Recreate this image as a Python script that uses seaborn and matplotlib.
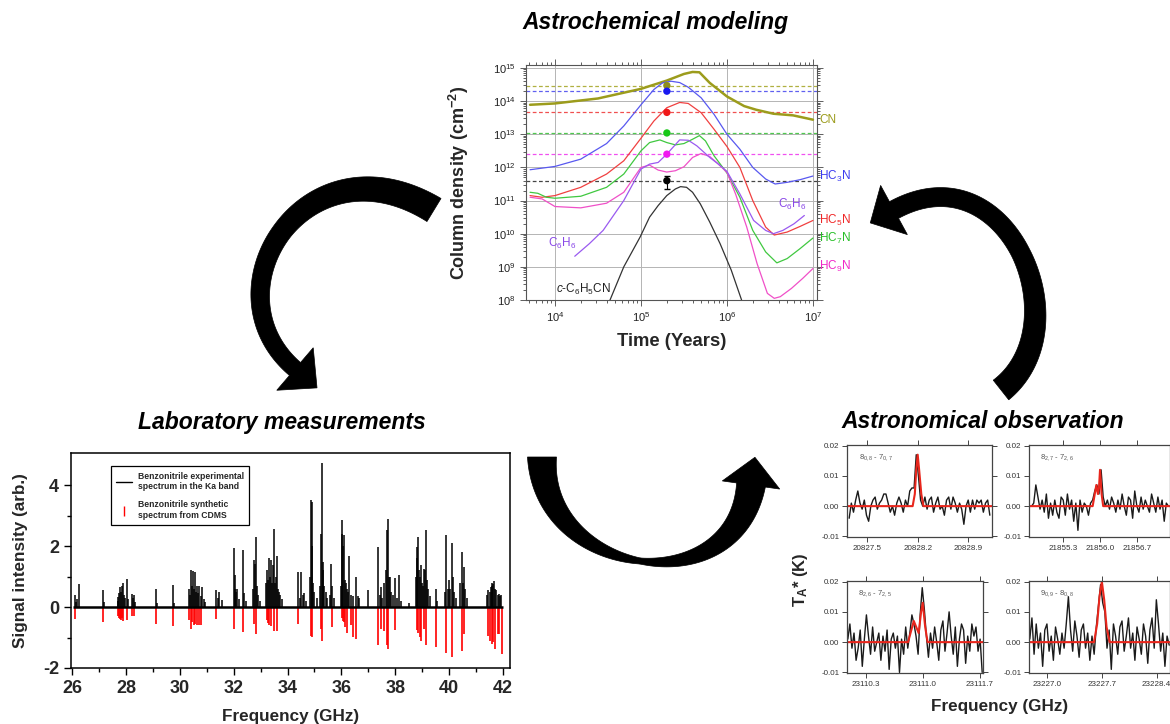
import numpy as np
import matplotlib
matplotlib.use("Agg")
import matplotlib.pyplot as plt
import seaborn as sns
from matplotlib.patches import Polygon
from matplotlib.lines import Line2D
from matplotlib.ticker import LogLocator, NullFormatter, FixedLocator, FixedFormatter, MultipleLocator

# ---------------- data: astrochemical model (log10 time, log10 column density) ----------------
cn_t = [3.71, 4.0, 4.5, 5.0, 5.3, 5.5, 5.6, 5.68, 5.8, 6.0, 6.2, 6.34, 6.54, 6.77, 7.0]
cn_n = [13.89, 13.93, 14.08, 14.37, 14.62, 14.82, 14.88, 14.87, 14.55, 14.14, 13.85, 13.74, 13.62, 13.57, 13.44]
hc3n_t = [3.71, 4.0, 4.3, 4.6, 4.8, 5.0, 5.15, 5.25, 5.35, 5.45, 5.55, 5.7, 5.85, 6.0, 6.15, 6.3, 6.45, 6.56, 6.7, 6.85, 7.0]
hc3n_n = [11.93, 12.03, 12.25, 12.72, 13.25, 13.89, 14.35, 14.55, 14.6, 14.56, 14.42, 14.1, 13.6, 13.0, 12.55, 12.0, 11.65, 11.5, 11.55, 11.63, 11.74]
hc5n_t = [3.71, 3.85, 4.0, 4.3, 4.6, 4.8, 5.0, 5.15, 5.3, 5.45, 5.55, 5.7, 5.85, 6.0, 6.15, 6.3, 6.45, 6.55, 6.7, 6.85, 7.0]
hc5n_n = [11.15, 11.1, 11.15, 11.4, 11.8, 12.2, 12.88, 13.4, 13.8, 13.96, 13.93, 13.65, 13.15, 12.63, 12.0, 11.0, 10.2, 9.96, 10.05, 10.22, 10.4]
hc7n_t = [3.71, 3.8, 3.9, 4.0, 4.3, 4.6, 4.8, 5.0, 5.1, 5.22, 5.3, 5.4, 5.5, 5.6, 5.68, 5.75, 5.85, 6.0, 6.15, 6.3, 6.45, 6.58, 6.7, 6.85, 7.0]
hc7n_n = [11.25, 11.22, 11.1, 11.07, 11.13, 11.4, 11.8, 12.5, 12.75, 12.83, 12.75, 12.68, 12.72, 12.85, 12.96, 12.8, 12.35, 11.83, 11.1, 10.1, 9.45, 9.12, 9.25, 9.55, 9.87]
hc9n_t = [3.71, 3.85, 4.0, 4.3, 4.6, 4.8, 5.0, 5.1, 5.2, 5.3, 5.4, 5.5, 5.6, 5.7, 5.8, 5.9, 6.0, 6.1, 6.23, 6.35, 6.47, 6.55, 6.62, 6.75, 6.88, 7.0]
hc9n_n = [11.1, 11.05, 10.82, 10.78, 10.92, 11.25, 12.0, 12.07, 11.92, 11.86, 11.9, 12.02, 12.3, 12.42, 12.33, 12.1, 11.85, 11.2, 10.2, 9.1, 8.2, 8.05, 8.1, 8.35, 8.65, 8.95]
c6h6_t = [4.23, 4.4, 4.56, 4.8, 5.0, 5.1, 5.2, 5.3, 5.45, 5.55, 5.65, 5.8, 5.9, 6.0, 6.15, 6.31, 6.45, 6.54, 6.65, 6.78, 6.9]
c6h6_n = [9.32, 9.7, 10.1, 11.0, 11.95, 12.1, 12.15, 12.4, 12.83, 12.82, 12.65, 12.3, 12.1, 11.88, 11.2, 10.4, 10.1, 10.0, 10.1, 10.3, 10.55]
bzn_t = [4.64, 4.8, 4.99, 5.1, 5.2, 5.3, 5.4, 5.46, 5.53, 5.6, 5.69, 5.8, 5.92, 6.05, 6.17]
bzn_n = [8.0, 9.0, 9.9, 10.5, 10.85, 11.15, 11.35, 11.42, 11.4, 11.25, 10.9, 10.35, 9.7, 8.9, 8.0]

obs_time = 2.0e5
obs_logn = [14.47, 14.3, 13.66, 13.04, 12.4, 11.6]
obs_err_lo = 11.35
obs_err_hi = 11.75

# ---------------- data: laboratory stick spectrum ----------------
lab_freq = [26.09, 26.14, 26.20, 26.27, 27.15, 27.20,
            27.69, 27.72, 27.75, 27.79, 27.82, 27.86, 27.89, 27.93, 27.97, 28.04, 28.08, 28.22, 28.27, 28.31, 28.35,
            29.10, 29.15, 29.75, 29.80,
            30.33, 30.38, 30.41, 30.45, 30.49, 30.53, 30.57, 30.60, 30.63, 30.68, 30.73, 30.77, 30.82, 30.88, 30.95,
            31.35, 31.40, 31.44, 31.57,
            32.00, 32.04, 32.06, 32.10, 32.14, 32.20, 32.34, 32.39, 32.44,
            32.72, 32.76, 32.80, 32.83, 32.87, 32.92, 32.98,
            33.20, 33.23, 33.27, 33.30, 33.34, 33.38, 33.42, 33.45, 33.50, 33.54, 33.57, 33.60, 33.64, 33.68, 33.73, 33.80,
            34.40, 34.45, 34.50, 34.56, 34.62, 34.70,
            34.83, 34.86, 34.89, 34.92, 34.96, 35.00, 35.08,
            35.20, 35.23, 35.27, 35.30, 35.33, 35.37, 35.42, 35.48, 35.58, 35.62, 35.66, 35.72,
            35.97, 36.01, 36.04, 36.07, 36.10, 36.14, 36.18, 36.22, 36.26, 36.30, 36.35, 36.42, 36.54, 36.60, 36.66, 36.98,
            37.37, 37.42, 37.47, 37.52, 37.60, 37.65, 37.68, 37.72, 37.76, 37.80, 37.85, 37.91, 37.99, 38.05, 38.15, 38.22, 38.50,
            38.76, 38.79, 38.82, 38.85, 38.88, 38.92, 38.95, 38.99, 39.02, 39.06, 39.10, 39.14, 39.18, 39.22, 39.28, 39.50, 39.56,
            39.86, 39.90, 39.95, 40.00, 40.05, 40.09, 40.13, 40.18, 40.26, 40.40, 40.46, 40.50, 40.55, 40.60, 40.66,
            41.42, 41.45, 41.50, 41.55, 41.58, 41.61, 41.64, 41.67, 41.71, 41.75, 41.80, 41.85, 41.90, 41.94]
lab_int = [0.38, 0.15, 0.25, 0.77, 0.55, 0.15,
           0.33, 0.20, 0.45, 0.66, 0.50, 0.70, 0.79, 0.40, 0.30, 0.93, 0.25, 0.42, 0.30, 0.38, 0.15,
           0.60, 0.12, 0.73, 0.12,
           0.60, 0.40, 1.20, 0.70, 1.18, 0.60, 1.15, 0.50, 0.68, 0.45, 0.68, 0.35, 0.66, 0.25, 0.15,
           0.55, 0.30, 0.50, 0.22,
           1.92, 0.60, 1.04, 0.50, 0.60, 0.25, 1.86, 0.45, 0.20,
           0.60, 1.53, 1.40, 2.28, 0.70, 0.40, 0.20,
           0.80, 1.20, 0.90, 1.62, 1.00, 1.53, 0.80, 1.37, 2.56, 0.80, 1.00, 1.67, 0.60, 0.50, 0.40, 0.25,
           1.15, 0.30, 1.15, 0.40, 0.45, 0.20,
           1.00, 3.50, 2.00, 3.45, 0.80, 0.50, 0.30,
           0.70, 2.41, 4.71, 1.20, 1.48, 0.70, 0.50, 0.30, 0.40, 1.40, 0.70, 0.30,
           0.70, 2.41, 2.85, 2.00, 2.36, 0.90, 0.80, 0.60, 0.50, 1.67, 0.40, 0.35, 1.00, 0.35, 0.30, 0.55,
           1.97, 0.40, 0.64, 0.30, 0.80, 1.20, 2.52, 2.90, 1.00, 0.99, 0.50, 0.40, 0.96, 0.30, 1.04, 0.20, 0.12,
           1.00, 1.97, 1.60, 2.28, 1.20, 1.00, 1.37, 0.80, 0.70, 1.26, 1.20, 2.52, 0.90, 0.60, 0.35, 0.60, 0.20,
           0.50, 2.36, 0.60, 0.88, 0.60, 2.10, 1.00, 0.50, 0.30, 0.80, 1.81, 0.80, 1.31, 0.60, 0.30,
           0.40, 0.55, 0.50, 0.65, 0.70, 0.79, 0.75, 0.85, 0.60, 0.55, 0.40, 0.42, 0.35, 0.38]
lab_start, lab_stop = 26.05, 42.0

cdms_freq = [26.09, 27.15, 27.69, 27.73, 27.77, 27.81, 27.85, 27.89, 28.04, 28.22, 28.31,
             29.10, 29.75,
             30.33, 30.41, 30.46, 30.52, 30.57, 30.65, 30.73, 30.80, 31.35,
             32.00, 32.34, 32.76, 32.83,
             33.23, 33.28, 33.33, 33.38, 33.50, 33.60, 34.40, 34.86, 34.92, 35.23, 35.27, 35.66,
             36.01, 36.05, 36.10, 36.15, 36.22, 36.34, 36.43, 36.54,
             37.37, 37.47, 37.60, 37.68, 37.72, 37.99,
             38.79, 38.85, 38.90, 38.95, 39.08, 39.14, 39.50, 39.90, 40.09, 40.46, 40.55,
             41.45, 41.52, 41.58, 41.63, 41.72, 41.80, 41.86, 41.98]
cdms_int = [-0.38, -0.49, -0.30, -0.36, -0.40, -0.44, -0.35, -0.45, -0.44, -0.30, -0.30,
            -0.55, -0.62,
            -0.42, -0.71, -0.50, -0.60, -0.55, -0.60, -0.60, -0.58, -0.38,
            -0.71, -0.82, -0.55, -0.90,
            -0.44, -0.52, -0.58, -0.62, -0.80, -0.78, -0.55, -0.96, -0.98, -0.71, -1.12, -0.66,
            -0.35, -0.45, -0.50, -0.65, -0.85, -0.60, -0.99, -1.04,
            -1.23, -0.71, -0.80, -1.26, -1.37, -0.77,
            -0.75, -0.85, -0.98, -1.10, -0.71, -1.26, -1.32, -1.50, -1.64, -1.45, -0.88,
            -0.95, -1.10, -1.20, -1.15, -1.37, -0.88, -0.88, -1.55]

# ---------------- data: astronomical observation panels ----------------
p1_range = (20827.25, 20829.20)
p1_obs = [-0.004, 0.001, -0.002, 0.002, 0.005, 0.001, -0.001, 0.002, -0.003, -0.005, 0.000, 0.002,
          0.003, -0.001, 0.001, 0.002, 0.004, 0.004, 0.001, -0.002, 0.000, -0.003, 0.001, 0.003,
          0.001, -0.002, 0.002, 0.000, 0.005, 0.006, 0.006, 0.017, 0.010, 0.002, 0.000, 0.003,
          -0.001, 0.002, 0.003, -0.002, 0.001, 0.003, -0.001, 0.000, -0.003, 0.002, 0.003, -0.001,
          0.003, 0.001, -0.002, 0.001, -0.001, -0.006, 0.000, 0.002, -0.002, 0.002, -0.001, 0.002,
          0.001, 0.002, -0.002, 0.001, 0.002, -0.003]
p1_mod_x = [20827.22, 20828.13, 20828.16, 20828.18, 20828.20, 20828.22, 20828.25, 20828.28, 20829.23]
p1_mod_y = [0, 0, 0.004, 0.012, 0.017, 0.012, 0.004, 0, 0]

p2_range = (21854.70, 21857.30)
p2_obs = [0.000, 0.001, 0.007, 0.003, -0.001, 0.002, -0.002, 0.004, -0.004, 0.001, -0.003, 0.002,
          -0.002, -0.004, 0.003, 0.002, -0.003, 0.004, -0.001, 0.002, -0.005, 0.001, -0.008, 0.002,
          -0.002, 0.001, 0.000, -0.003, 0.001, 0.002, 0.005, 0.007, 0.004, 0.012, 0.003, 0.000,
          0.002, -0.001, 0.003, 0.001, -0.002, 0.002, -0.001, 0.004, 0.000, -0.003, 0.003, 0.002,
          -0.004, 0.005, 0.000, -0.002, 0.003, -0.001, 0.002, 0.000, -0.002, 0.004, 0.001, -0.002,
          0.003, -0.001, 0.002, -0.005, 0.001, 0.000]
p2_mod_x = [21854.65, 21855.86, 21855.90, 21855.93, 21855.96, 21855.98, 21856.00, 21856.03, 21856.06, 21857.33]
p2_mod_y = [0, 0, 0.004, 0.007, 0.004, 0.006, 0.012, 0.004, 0, 0]

p3_range = (23110.08, 23111.73)
p3_obs = [0.001, 0.006, -0.002, 0.003, -0.006, -0.002, 0.004, -0.008, 0.001, 0.009, 0.002, -0.004,
          0.005, -0.003, 0.000, 0.003, -0.006, 0.002, -0.003, 0.004, -0.009, 0.001, 0.003, -0.002,
          0.002, -0.010, 0.001, -0.004, 0.005, -0.002, 0.003, 0.009, 0.006, 0.002, -0.004, 0.009,
          0.018, 0.011, 0.002, -0.005, 0.003, -0.002, 0.005, 0.000, -0.006, 0.004, 0.007, -0.003,
          0.003, 0.010, 0.002, -0.004, 0.005, -0.008, 0.001, 0.006, 0.004, -0.007, 0.002, -0.003,
          0.006, 0.002, 0.005, -0.003, 0.001, -0.010]
p3_mod_x = [23110.07, 23110.82, 23110.86, 23110.89, 23110.92, 23110.95, 23110.98, 23111.00, 23111.03, 23111.06, 23111.74]
p3_mod_y = [0, 0, 0.004, 0.007, 0.005, 0.003, 0.010, 0.013, 0.005, 0, 0]

p4_range = (23226.78, 23228.56)
p4_obs = [0.001, 0.008, -0.004, 0.006, -0.002, 0.003, -0.008, 0.004, 0.006, -0.003, 0.002, -0.006,
          0.005, 0.001, -0.004, 0.003, -0.002, 0.006, 0.015, 0.004, -0.003, 0.007, 0.002, -0.005,
          0.004, 0.006, -0.002, 0.003, -0.006, 0.002, -0.004, 0.005, 0.012, 0.019, 0.013, 0.010,
          -0.002, 0.004, -0.009, 0.006, 0.002, -0.004, 0.005, 0.007, -0.003, 0.002, 0.008, -0.002,
          0.003, -0.006, 0.005, 0.001, -0.004, 0.006, 0.002, -0.007, 0.004, 0.008, -0.002, 0.014,
          0.006, -0.003, 0.003, -0.008, 0.002, -0.001]
p4_mod_x = [23226.77, 23227.60, 23227.64, 23227.67, 23227.70, 23227.73, 23227.76, 23227.80, 23228.57]
p4_mod_y = [0, 0, 0.006, 0.015, 0.020, 0.014, 0.005, 0, 0]

p1_ticks = [20827.5, 20828.2, 20828.9]
p2_ticks = [21855.3, 21856.0, 21856.7]
p3_ticks = [23110.3, 23111.0, 23111.7]
p4_ticks = [23227.0, 23227.7, 23228.4]
p_labels = [r"8$_{0,8}$ - 7$_{0,7}$", r"8$_{2,7}$ - 7$_{2,6}$", r"8$_{2,6}$ - 7$_{2,5}$", r"9$_{0,9}$ - 8$_{0,8}$"]

# ---------------- style ----------------
sns.set_theme(style="ticks")
plt.rcParams["font.family"] = ["Liberation Sans", "DejaVu Sans"]
plt.rcParams["mathtext.fontset"] = "custom"
plt.rcParams["mathtext.rm"] = "Liberation Sans"
plt.rcParams["mathtext.it"] = "Liberation Sans:italic"
plt.rcParams["mathtext.bf"] = "Liberation Sans:bold"
plt.rcParams["axes.unicode_minus"] = False

W, H = 1170, 724
fig = plt.figure(figsize=(W / 100, H / 100), dpi=100)
fig.patch.set_facecolor("white")


def px_axes(left, top, right, bottom):
    return fig.add_axes([left / W, 1 - bottom / H, (right - left) / W, (bottom - top) / H])


# overlay for titles and arrows (pixel coordinates)
ov = fig.add_axes([0, 0, 1, 1])
ov.set_xlim(0, W)
ov.set_ylim(H, 0)
ov.axis("off")


def curved_arrow(ax, p0, p1, p2, p3, widths, head_w, head_len):
    P = np.array([p0, p1, p2, p3], dtype=float)
    t = np.linspace(0, 1, 120)[:, None]
    B = ((1 - t) ** 3) * P[0] + 3 * ((1 - t) ** 2) * t * P[1] + 3 * (1 - t) * t ** 2 * P[2] + t ** 3 * P[3]
    D = 3 * ((1 - t) ** 2) * (P[1] - P[0]) + 6 * (1 - t) * t * (P[2] - P[1]) + 3 * t ** 2 * (P[3] - P[2])
    D = D / np.linalg.norm(D, axis=1, keepdims=True)
    N = np.column_stack([-D[:, 1], D[:, 0]])
    w = np.interp(t[:, 0], np.linspace(0, 1, len(widths)), widths)[:, None] / 2
    left = B + N * w
    right = B - N * w
    end, tang, nrm = B[-1], D[-1], N[-1]
    head = [end + nrm * head_w / 2, end + tang * head_len, end - nrm * head_w / 2]
    pts = np.vstack([left, head, right[::-1]])
    ax.add_patch(Polygon(pts, closed=True, facecolor="black", edgecolor="black", lw=0.5))


curved_arrow(ov, (434, 210), (306, 132), (204, 291), (295, 369), [27, 20, 17], 56, 29)
curved_arrow(ov, (1001, 390), (1082, 326), (1008, 148), (894, 210), [25, 19, 19], 56, 27)
curved_arrow(ov, (542, 457), (542, 577), (734, 605), (751, 485), [29, 6, 29], 58, 28)

title_kw = dict(ha="center", va="center", fontsize=16.5, fontweight="bold", fontstyle="italic", color="black")
ov.text(656, 22, "Astrochemical modeling", **title_kw)
ov.text(282, 422, "Laboratory measurements", **title_kw)
ov.text(983, 422, "Astronomical observation", **title_kw)
ov.text(801, 580, r"T$_{\mathbf{A}}$* (K)", rotation=90, ha="center", va="center", fontsize=12, fontweight="bold")
ov.text(1000, 707, "Frequency (GHz)", ha="center", va="center", fontsize=12.3, fontweight="bold")

# ---------------- astrochemical model panel ----------------
axm = px_axes(526, 65, 817, 300)
axm.set_xscale("log")
axm.set_yscale("log")
curves = [
    (cn_t, cn_n, "#9c9c1c", 1.8),
    (hc3n_t, hc3n_n, "#5858f0", 0.9),
    (hc5n_t, hc5n_n, "#f04040", 0.9),
    (hc7n_t, hc7n_n, "#40c840", 0.9),
    (hc9n_t, hc9n_n, "#f050c8", 0.9),
    (c6h6_t, c6h6_n, "#9a5af0", 0.9),
    (bzn_t, bzn_n, "#333333", 0.9),
]
for ct, cnv, col, lw in curves:
    sns.lineplot(x=10 ** np.array(ct), y=10 ** np.array(cnv), ax=axm, color=col, lw=lw,
                 estimator=None, sort=False, legend=False)

obs_cols = ["#8e8e1c", "#1818f0", "#f01818", "#18c818", "#f018f0", "#000000"]
obs_line_cols = ["#b0b040", "#6060f0", "#f05050", "#50c850", "#f050f0", "#444444"]
for v, lc in zip(obs_logn, obs_line_cols):
    axm.axhline(10 ** v, color=lc, ls=(0, (3, 2)), lw=0.9, zorder=1)
axm.errorbar([obs_time], [10 ** obs_logn[-1]],
             yerr=[[10 ** obs_logn[-1] - 10 ** obs_err_lo], [10 ** obs_err_hi - 10 ** obs_logn[-1]]],
             color="black", lw=0.8, capsize=2, zorder=3)
sns.scatterplot(x=[obs_time] * len(obs_logn), y=[10 ** v for v in obs_logn], hue=list(range(len(obs_logn))),
                palette=obs_cols, s=28, edgecolor="none", ax=axm, legend=False, zorder=4)

axm.set_xlim(10 ** 3.663, 10 ** 7.047)
axm.set_ylim(1e8, 10 ** 15.09)
axm.xaxis.set_major_locator(LogLocator(base=10, numticks=30))
axm.yaxis.set_major_locator(LogLocator(base=10, numticks=30))
axm.xaxis.set_minor_locator(LogLocator(base=10, subs=np.arange(2, 10), numticks=30))
axm.yaxis.set_minor_locator(LogLocator(base=10, subs=np.arange(2, 10), numticks=30))
axm.xaxis.set_minor_formatter(NullFormatter())
axm.yaxis.set_minor_formatter(NullFormatter())
axm.grid(True, which="major", color="#b4b4b4", lw=0.7)
axm.set_axisbelow(True)
axm.tick_params(which="both", direction="out", top=True, right=True, labelsize=8,
                labelcolor="#222222", color="#444444", width=0.6)
axm.tick_params(which="major", length=4)
axm.tick_params(which="minor", length=2.5)
for sp in axm.spines.values():
    sp.set_color("#555555")
    sp.set_linewidth(0.8)
axm.set_xlabel("Time (Years)", fontsize=13.3, fontweight="bold")
axm.set_ylabel("Column density (cm$^{\\mathbf{-2}}$)", fontsize=13, fontweight="bold")
axm.xaxis.set_label_coords(0.5, -0.14)
axm.yaxis.set_label_coords(-0.19, 0.5)

lab_kw = dict(fontsize=8.5, va="center", ha="left")
axm.text(10 ** 7.07, 10 ** 13.44, "CN", color="#9c9c1c", **lab_kw)
axm.text(10 ** 7.07, 10 ** 11.74, r"HC$_3$N", color="#3c3cf0", **lab_kw)
axm.text(10 ** 7.07, 10 ** 10.4, r"HC$_5$N", color="#f02828", **lab_kw)
axm.text(10 ** 7.07, 10 ** 9.85, r"HC$_7$N", color="#28c028", **lab_kw)
axm.text(10 ** 7.07, 10 ** 9.0, r"HC$_9$N", color="#f028c8", **lab_kw)
axm.text(10 ** 6.76, 10 ** 10.87, r"C$_6$H$_6$", color="#8a48e8", fontsize=8.5, ha="center", va="center")
axm.text(10 ** 4.08, 10 ** 9.72, r"C$_6$H$_6$", color="#8a48e8", fontsize=8.5, ha="center", va="center")
axm.text(10 ** 4.33, 10 ** 8.33, r"$c$-C$_6$H$_5$CN", color="#222222", fontsize=8.5, ha="center", va="center")

# ---------------- laboratory panel ----------------
axl = px_axes(71, 453, 510, 668)
axl.vlines(cdms_freq, 0, cdms_int, color="#ff0000", lw=1.2, zorder=2)
axl.hlines(0, lab_start, lab_stop, color="black", lw=1.8, zorder=3)
axl.vlines(lab_freq, 0, lab_int, color="black", lw=1.1, zorder=3)
axl.set_xlim(25.96, 42.26)
axl.set_ylim(-2, 5.05)
axl.xaxis.set_major_locator(MultipleLocator(2))
axl.xaxis.set_minor_locator(MultipleLocator(1))
axl.yaxis.set_major_locator(FixedLocator([-2, 0, 2, 4]))
axl.yaxis.set_minor_locator(FixedLocator([-1, 1, 3]))
axl.tick_params(which="both", direction="out", labelsize=13, color="black", width=1.0)
axl.tick_params(which="major", length=5)
axl.tick_params(which="minor", length=3)
for lab in axl.get_xticklabels() + axl.get_yticklabels():
    lab.set_fontweight("bold")
for sp in axl.spines.values():
    sp.set_color("black")
    sp.set_linewidth(1.1)
axl.set_xlabel("Frequency (GHz)", fontsize=12.3, fontweight="bold")
axl.set_ylabel("Signal intensity (arb.)", fontsize=12.3, fontweight="bold")
axl.xaxis.set_label_coords(0.5, -0.19)
axl.yaxis.set_label_coords(-0.098, 0.5)
handles = [Line2D([], [], color="black", lw=1.0),
           Line2D([], [], color="#ff0000", marker="|", ls="none", markersize=7, markeredgewidth=1.0)]
leg = axl.legend(handles, ["Benzonitrile experimental\nspectrum in the Ka band",
                           "Benzonitrile synthetic\nspectrum from CDMS"],
                 loc="upper left", bbox_to_anchor=(0.082, 0.958), prop=dict(size=6.2, weight="bold"),
                 frameon=True, fancybox=False, edgecolor="black", framealpha=1, labelspacing=1.1,
                 handlelength=1.8, borderpad=0.6, handletextpad=0.7)
leg.get_frame().set_linewidth(0.9)

# ---------------- observation panels ----------------
panels = [
    ((847, 445, 992, 537), p1_range, p1_obs, p1_mod_x, p1_mod_y, p1_ticks, (20827.22, 20829.23)),
    ((1029, 445, 1170, 537), p2_range, p2_obs, p2_mod_x, p2_mod_y, p2_ticks, (21854.65, 21857.33)),
    ((847, 581, 983, 673), p3_range, p3_obs, p3_mod_x, p3_mod_y, p3_ticks, (23110.07, 23111.74)),
    ((1029, 581, 1170, 673), p4_range, p4_obs, p4_mod_x, p4_mod_y, p4_ticks, (23226.77, 23228.57)),
]
for i, (box, rng, obs, mx, my, ticks, xl) in enumerate(panels):
    ax = px_axes(*box)
    fx = np.linspace(rng[0], rng[1], len(obs))
    sns.lineplot(x=fx, y=obs, ax=ax, color="#1a1a1a", lw=1.0,
                 estimator=None, sort=False, legend=False)
    sns.lineplot(x=mx, y=my, ax=ax, color="#e8261c", lw=1.5, estimator=None, sort=False, legend=False)
    ax.set_xlim(*xl)
    ax.set_ylim(-0.0102, 0.0202)
    ax.xaxis.set_major_locator(FixedLocator(ticks))
    ax.xaxis.set_major_formatter(FixedFormatter([f"{v:.1f}" for v in ticks]))
    ax.yaxis.set_major_locator(FixedLocator([-0.01, 0.0, 0.01, 0.02]))
    ax.yaxis.set_major_formatter(FixedFormatter(["-0.01", "0.00", "0.01", "0.02"]))
    ax.tick_params(which="both", direction="out", top=True, right=True, labelsize=5.8,
                   labelcolor="#333333", color="#444444", length=3.5, width=0.7, pad=2)
    for sp in ax.spines.values():
        sp.set_color("#444444")
        sp.set_linewidth(0.9)
    ax.set_xlabel("")
    ax.set_ylabel("")
    ax.text(0.08, 0.86, p_labels[i], transform=ax.transAxes, fontsize=5.5, color="#555555", ha="left", va="center")

fig.savefig("out.png", dpi=100, facecolor="white")
